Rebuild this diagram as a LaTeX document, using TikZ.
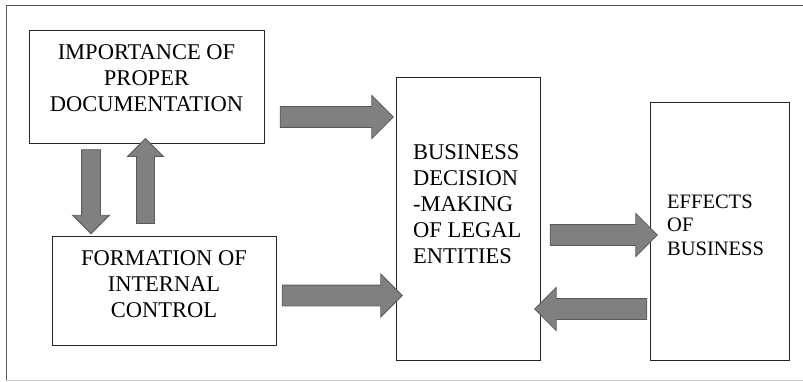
\documentclass[tikz,border=0pt]{standalone}
\usepackage{fontspec}
\setmainfont{Liberation Serif}
\usetikzlibrary{positioning, shapes.arrows}
\definecolor{arrowfill}{HTML}{808080}
\definecolor{arrowedge}{HTML}{5A5A5A}
\begin{document}
\begin{tikzpicture}[x=1pt, y=-1pt,
				box/.style={draw=black!85, line width=0.9pt, inner sep=0pt},
				lbl/.style={inner sep=0pt, font=\fontsize{22.5}{26}\selectfont},
				barrow/.style={single arrow, draw=arrowedge, fill=arrowfill, line width=0.9pt,
					inner xsep=0pt, inner ysep=10pt, single arrow head extend=11pt},
				varrow/.style={barrow, inner xsep=9pt, inner ysep=0pt, single arrow head extend=9pt}]
				\useasboundingbox (0,0) rectangle (803,382);
				\draw[black!65, line width=0.9pt] (6,380) -- (6,5) -- (803,5);
				\draw[black!20, line width=0.9pt] (6,380) -- (803,380);
				\node[box, minimum width=235pt, minimum height=113pt] (imp) at (146.5,86.5) {};
				\node[box, minimum width=224pt, minimum height=109pt] (form) at (164,290.5) {};
				\node[box, minimum width=144pt, minimum height=283pt] (dec) at (468,218.5) {};
				\node[box, minimum width=139pt, minimum height=258pt] (eff) at (719.5,231) {};
				\node[lbl, align=center] (imptxt) at (146.5,78) {IMPORTANCE OF\\PROPER\\DOCUMENTATION};
				\node[lbl, align=center] (formtxt) at (164,284.5) {FORMATION OF\\INTERNAL\\CONTROL};
				\node[lbl, align=left, anchor=west] (dectxt) at (413,204.5) {BUSINESS\\DECISION\\-MAKING\\OF LEGAL\\ENTITIES};
				\node[lbl, align=left, anchor=west, font=\fontsize{20.5}{23.5}\selectfont] (efftxt) at (667,225) {EFFECTS\\OF\\BUSINESS};
				\node[barrow, minimum height=113pt] (imptodec) at (331.5,117) {};
				\node[barrow, minimum height=120pt] (formtodec) at (337,295.5) {};
				\node[varrow, minimum height=84pt, shape border rotate=270] (imptoform) at (91,187) {};
				\node[varrow, minimum height=85pt, inner xsep=8.5pt, shape border rotate=90] (formtoimp) at (145.5,185.5) {};
				\node[barrow, minimum height=107pt] (dectoeff) at (598.5,235) {};
				\node[barrow, minimum height=112pt, shape border rotate=180] (efftodec) at (596,309) {};
			\end{tikzpicture}
\end{document}
